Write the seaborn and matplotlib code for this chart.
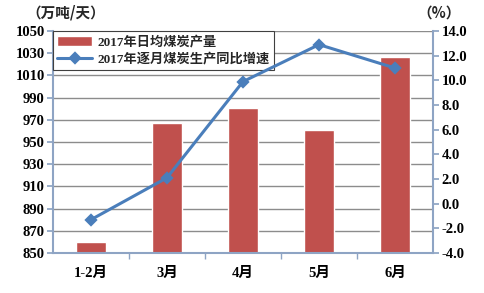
import matplotlib
matplotlib.use("Agg")
import matplotlib.pyplot as plt
import seaborn as sns
import pandas as pd
import numpy as np
from matplotlib.ticker import FixedLocator

months = ["1-2月", "3月", "4月", "5月", "6月"]
daily_output = [860, 967, 981, 961, 1027]
yoy_growth = [-1.3, 2.1, 9.9, 12.9, 11.0]
left_ticks = [850, 870, 890, 910, 930, 950, 970, 990, 1010, 1030, 1050]
right_ticks = [-4.0, -2.0, 0.0, 2.0, 4.0, 6.0, 8.0, 10.0, 12.0, 14.0]
bar_label = "2017年日均煤炭产量"
line_label = "2017年逐月煤炭生产同比增速"
left_unit = "（万吨/天）"
right_unit = "（%）"

sns.set_theme(style="white")
plt.rcParams['font.family'] = ['Liberation Serif', 'Noto Sans CJK SC', 'DejaVu Sans']

df = pd.DataFrame({"month": months, "output": daily_output, "growth": yoy_growth})

fig = plt.figure(figsize=(4.85, 2.93), dpi=100)
ax = fig.add_axes([0.109, 0.1365, 0.784, 0.7575])

bar_color = "#C0504D"
line_color = "#4A7EBB"
axis_color = "#8EA4C4"

sns.barplot(data=df, x="month", y="output", color=bar_color, width=0.4,
            saturation=1, ax=ax, label=bar_label)
ax.set_ylim(850, 1050)
ax.yaxis.set_major_locator(FixedLocator(left_ticks))
ax.set_yticklabels([str(t) for t in left_ticks])
ax.grid(axis="y", color="#8C8C8C", linewidth=1.0)
ax.set_axisbelow(True)
ax.set_xlabel("")
ax.set_ylabel("")

ax2 = ax.twinx()
sns.pointplot(data=df, x="month", y="growth", color=line_color, markers="D",
              linestyles="-", ax=ax2, label=line_label, markersize=5,
              linewidth=2.2)
ax2.set_ylim(-4, 14)
ax2.yaxis.set_major_locator(FixedLocator(right_ticks))
ax2.set_yticklabels([f"{t:.1f}" for t in right_ticks])
ax2.set_ylabel("")
ax2.set_xlim(-0.5, len(months) - 0.5)
ax.set_xlim(-0.5, len(months) - 0.5)

for a in (ax, ax2):
    for s in a.spines.values():
        s.set_visible(False)
ax.spines["left"].set_visible(True)
ax.spines["left"].set_color(axis_color)
ax.spines["left"].set_linewidth(1.5)
ax.spines["bottom"].set_visible(True)
ax.spines["bottom"].set_color(axis_color)
ax.spines["bottom"].set_linewidth(1.5)
ax2.spines["right"].set_visible(True)
ax2.spines["right"].set_color(axis_color)
ax2.spines["right"].set_linewidth(1.5)

ax.tick_params(axis="y", which="major", length=4, color=axis_color, direction="out",
               left=True, labelsize=10.5, pad=2)
ax2.tick_params(axis="y", which="major", length=4, color=axis_color, direction="out",
                right=True, labelsize=10.5, pad=2)
ax.tick_params(axis="x", which="major", length=0, labelsize=10.5, pad=10)
ax.set_xticks(np.arange(0.5, len(months) - 1, 1.0), minor=True)
ax.tick_params(axis="x", which="minor", length=4, color=axis_color, direction="out", bottom=True)

for lab in ax.get_yticklabels() + ax2.get_yticklabels() + ax.get_xticklabels():
    lab.set_fontweight("bold")
    lab.set_color("black")

h1, l1 = ax.get_legend_handles_labels()
h2, l2 = ax2.get_legend_handles_labels()
if ax2.get_legend():
    ax2.get_legend().remove()
leg = ax.legend(h1 + h2, [bar_label, line_label], loc="upper left",
                bbox_to_anchor=(0.0, 1.0), fancybox=False, framealpha=1,
                edgecolor="#404040",
                prop={"family": ["Liberation Serif", "Noto Sans CJK SC"], "size": 9.5, "weight": "bold"},
                borderpad=0.35, labelspacing=0.3, handlelength=2.6, handletextpad=0.4,
                borderaxespad=0.0)
leg.get_frame().set_linewidth(0.8)
leg.set_zorder(10)

fig.text(0.055, 0.985, left_unit, fontsize=10.5, fontweight="bold",
         family=["Noto Sans CJK SC"], va="top", ha="left")
fig.text(0.95, 0.985, right_unit, fontsize=10.5, fontweight="bold",
         family=["Noto Sans CJK SC"], va="top", ha="right")

fig.savefig("out.png", dpi=100)
